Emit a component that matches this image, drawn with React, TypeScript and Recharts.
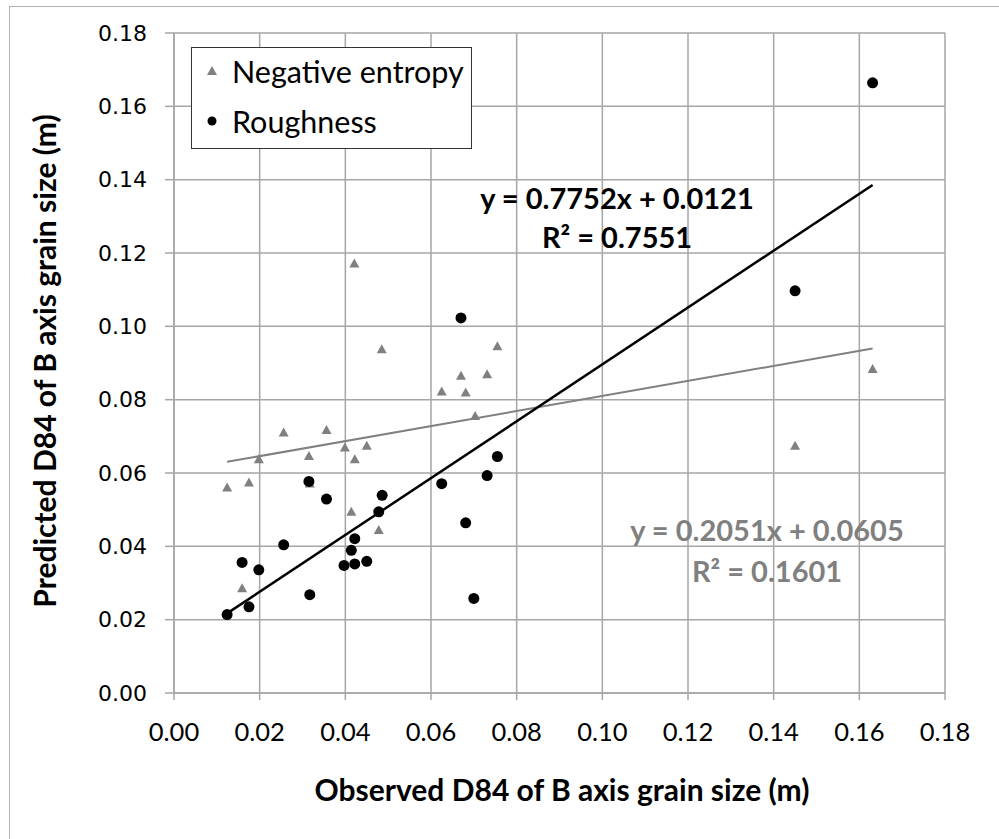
import React from 'react';
import {
  ScatterChart,
  Scatter,
  XAxis,
  YAxis,
  CartesianGrid,
  ReferenceLine,
  Legend,
  Label,
} from 'recharts';

// observed (x) and predicted (y) D84, metres
const entropyX = [
  0.0124, 0.0175, 0.0198, 0.0256, 0.0315, 0.0356, 0.0399, 0.0422, 0.045, 0.0414, 0.0478, 0.0159,
  0.0421, 0.0485, 0.0625, 0.067, 0.0681, 0.0731, 0.0755, 0.0703, 0.145, 0.1631, 0.0317,
];
const entropyY = [
  0.0559, 0.0573, 0.0636, 0.0709, 0.0645, 0.0716, 0.0668, 0.0636, 0.0673, 0.0493, 0.0443, 0.0284,
  0.117, 0.0936, 0.0821, 0.0864, 0.0818, 0.0868, 0.0944, 0.0754, 0.0673, 0.0882, 0.057,
];
const roughX = [
  0.0124, 0.0175, 0.0159, 0.0198, 0.0256, 0.0315, 0.0317, 0.0356, 0.0397, 0.0422, 0.0414, 0.0422,
  0.045, 0.0478, 0.0486, 0.067, 0.0625, 0.0681, 0.0731, 0.0755, 0.07, 0.145, 0.1631,
];
const roughY = [
  0.0214, 0.0235, 0.0356, 0.0336, 0.0404, 0.0577, 0.0268, 0.0529, 0.0348, 0.0352, 0.0389, 0.0421,
  0.0359, 0.0494, 0.0539, 0.1023, 0.0571, 0.0464, 0.0593, 0.0645, 0.0258, 0.1097, 0.1664,
];
const axisTicks = [0, 0.02, 0.04, 0.06, 0.08, 0.1, 0.12, 0.14, 0.16, 0.18];

const entropyFit = { slope: 0.2051, intercept: 0.0605, r2: '0.1601' };
const roughFit = { slope: 0.7752, intercept: 0.0121, r2: '0.7551' };

const toPoints = (xs: number[], ys: number[]) => xs.map((x, i) => ({ x, y: ys[i] }));
const entropyData = toPoints(entropyX, entropyY);
const roughData = toPoints(roughX, roughY);

const fitSegment = (xs: number[], fit: { slope: number; intercept: number }) => {
  const x0 = Math.min(...xs);
  const x1 = Math.max(...xs);
  return [
    { x: x0, y: fit.slope * x0 + fit.intercept },
    { x: x1, y: fit.slope * x1 + fit.intercept },
  ];
};

const GRAY = '#808080';
const GRID = '#a6a6a6';
const FONT = 'Lato, "Open Sans", sans-serif';

const Triangle = (props: any) => {
  const { cx, cy } = props;
  return <path d={`M${cx},${cy - 5.5} L${cx + 5},${cy + 3.5} L${cx - 5},${cy + 3.5} Z`} fill={GRAY} />;
};

const Dot = (props: any) => <circle cx={props.cx} cy={props.cy} r={5.5} fill="#000" />;

const LegendBox = () => (
  <div
    style={{
      boxSizing: 'border-box',
      width: 281,
      height: 102,
      border: '1.5px solid #333',
      background: '#fff',
      fontFamily: FONT,
      fontSize: 30.5,
      color: '#000',
    }}
  >
    <div style={{ position: 'absolute', left: 14, top: 6, display: 'flex', alignItems: 'center' }}>
      <svg width={14} height={14} style={{ marginRight: 13 }}>
        <path d="M7,2 L12,11 L2,11 Z" fill={GRAY} />
      </svg>
      Negative entropy
    </div>
    <div style={{ position: 'absolute', left: 14, top: 56, display: 'flex', alignItems: 'center' }}>
      <svg width={14} height={14} style={{ marginRight: 13 }}>
        <circle cx={7} cy={7} r={4.5} fill="#000" />
      </svg>
      Roughness
    </div>
  </div>
);

const fmt = (v: number) => v.toFixed(2);

export default function App() {
  return (
    <div style={{ position: 'absolute', left: 0, top: 0, width: 999, height: 839, background: '#fff' }}>
      <div
        style={{
          position: 'absolute',
          left: 9,
          top: 6,
          right: -2,
          bottom: -2,
          borderTop: '1.5px solid #b0b0b0',
          borderLeft: '1.5px solid #b0b0b0',
        }}
      />
      <ScatterChart width={999} height={839} margin={{ top: 33, right: 54, bottom: 86, left: 0 }}>
        <CartesianGrid stroke={GRID} strokeWidth={1.5} />
        <XAxis
          type="number"
          dataKey="x"
          domain={[0, 0.18]}
          ticks={axisTicks}
          interval={0}
          tickFormatter={fmt}
          height={60}
          tickSize={7}
          tickMargin={23}
          axisLine={{ stroke: GRID, strokeWidth: 1.5 }}
          tickLine={{ stroke: GRID, strokeWidth: 1.5 }}
          tick={{ fill: '#000', fontSize: 25.5, fontFamily: FONT }}
        >
          <Label
            content={() => (
              <text x={562} y={801} textAnchor="middle" fontFamily={FONT} fontWeight="bold" fontSize={30} fill="#000">
                Observed D84 of B axis grain size (m)
              </text>
            )}
          />
        </XAxis>
        <YAxis
          type="number"
          dataKey="y"
          domain={[0, 0.18]}
          ticks={axisTicks}
          interval={0}
          tickFormatter={fmt}
          width={174}
          tickSize={9}
          tickMargin={18}
          axisLine={{ stroke: GRID, strokeWidth: 1.5 }}
          tickLine={{ stroke: GRID, strokeWidth: 1.5 }}
          tick={{ fill: '#000', fontSize: 22, fontFamily: '"DejaVu Sans", sans-serif' }}
        >
          <Label
            content={() => (
              <text
                x={56}
                y={361}
                transform="rotate(-90 56 361)"
                textAnchor="middle"
                fontFamily={FONT}
                fontWeight="bold"
                fontSize={30}
                fill="#000"
              >
                Predicted D84 of B axis grain size (m)
              </text>
            )}
          />
        </YAxis>
        <Legend
          layout="vertical"
          align="center"
          verticalAlign="middle"
          wrapperStyle={{ left: 191, top: 47, width: 281, height: 102 }}
          content={() => <LegendBox />}
        />
        <Scatter name="Negative entropy" data={entropyData} shape={Triangle} isAnimationActive={false} />
        <Scatter name="Roughness" data={roughData} shape={Dot} isAnimationActive={false} />
        <ReferenceLine
          segment={fitSegment(entropyX, entropyFit)}
          stroke={GRAY}
          strokeWidth={2}
          ifOverflow="visible"
        />
        <ReferenceLine
          segment={fitSegment(roughX, roughFit)}
          stroke="#000"
          strokeWidth={2.5}
          ifOverflow="visible"
        />
        <text x={617} y={209} textAnchor="middle" fontFamily={FONT} fontWeight="bold" fontSize={29} fill="#000">
          {`y = ${roughFit.slope}x + ${roughFit.intercept}`}
        </text>
        <text x={617} y={248} textAnchor="middle" fontFamily={FONT} fontWeight="bold" fontSize={29} fill="#000">
          {`R² = ${roughFit.r2}`}
        </text>
        <text x={767} y={541} textAnchor="middle" fontFamily={FONT} fontWeight="bold" fontSize={29} fill={GRAY}>
          {`y = ${entropyFit.slope}x + ${entropyFit.intercept}`}
        </text>
        <text x={767} y={582} textAnchor="middle" fontFamily={FONT} fontWeight="bold" fontSize={29} fill={GRAY}>
          {`R² = ${entropyFit.r2}`}
        </text>
      </ScatterChart>
    </div>
  );
}
